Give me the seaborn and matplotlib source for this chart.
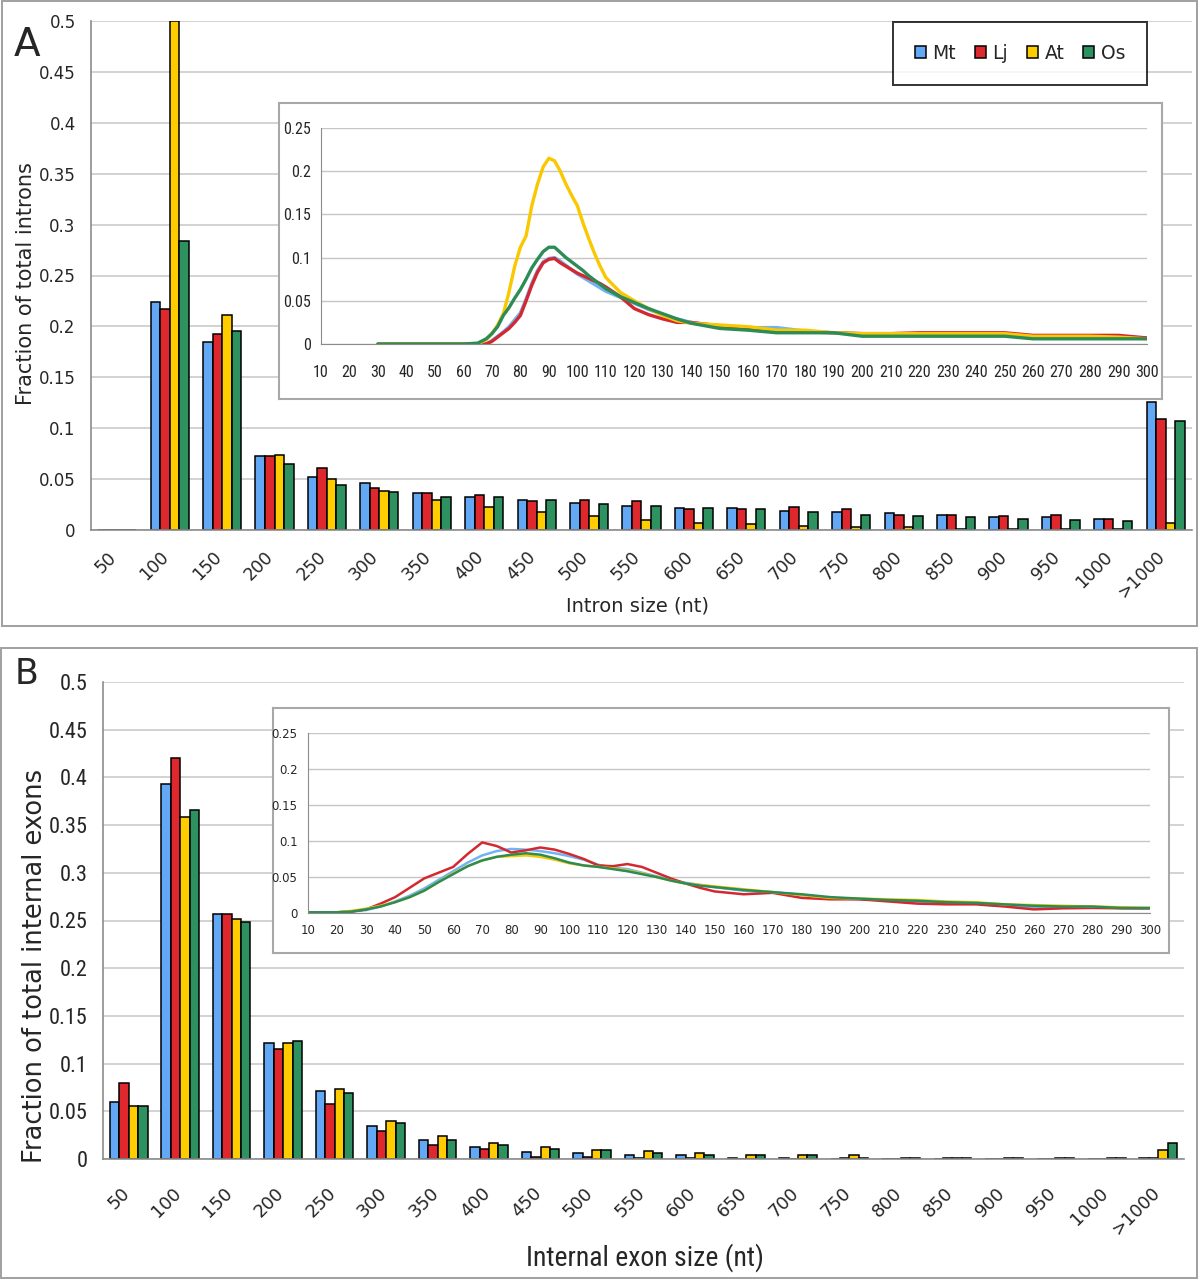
import numpy as np
import pandas as pd
import matplotlib
matplotlib.use("Agg")
import matplotlib.pyplot as plt
from matplotlib import font_manager
from matplotlib.patches import Rectangle, Patch
from matplotlib.transforms import ScaledTranslation
import seaborn as sns

sns.set_style("white")
plt.rcParams['font.family'] = ['DejaVu Sans']

# narrow face for the Excel-style labels; fall back to Liberation Sans (smaller)
_names = {f.name for f in font_manager.fontManager.ttflist}
NARROW = None
for cand in ['Liberation Sans Narrow', 'Arial Narrow', 'Roboto Condensed', 'Open Sans Condensed']:
    if cand in _names:
        NARROW = cand
        break
if NARROW is None:
    NARROW = 'Liberation Sans' if 'Liberation Sans' in _names else 'DejaVu Sans'
    NSCALE = 0.86
else:
    NSCALE = 1.0

# ---- data -------------------------------------------------------------
species = ['Mt', 'Lj', 'At', 'Os']
size_labels = ['50', '100', '150', '200', '250', '300', '350', '400', '450', '500',
               '550', '600', '650', '700', '750', '800', '850', '900', '950', '1000', '>1000']

# A: fraction of total introns per size bin
intron_mt = [0, 0.224, 0.185, 0.073, 0.052, 0.046, 0.036, 0.032, 0.029, 0.027,
             0.024, 0.022, 0.022, 0.019, 0.018, 0.017, 0.015, 0.0125, 0.0125, 0.011, 0.126]
intron_lj = [0, 0.217, 0.193, 0.073, 0.061, 0.041, 0.036, 0.034, 0.028, 0.029,
             0.028, 0.021, 0.021, 0.023, 0.021, 0.015, 0.015, 0.014, 0.015, 0.011, 0.109]
intron_at = [0, 0.500, 0.211, 0.074, 0.050, 0.038, 0.029, 0.023, 0.018, 0.014,
             0.010, 0.007, 0.006, 0.004, 0.003, 0.003, 0.0013, 0.0013, 0.0013, 0.0013, 0.007]
intron_os = [0, 0.284, 0.195, 0.065, 0.044, 0.037, 0.032, 0.032, 0.029, 0.026,
             0.024, 0.022, 0.021, 0.018, 0.015, 0.014, 0.0125, 0.011, 0.0098, 0.0085, 0.107]

# B: fraction of total internal exons per size bin
exon_mt = [0.060, 0.393, 0.257, 0.122, 0.071, 0.035, 0.020, 0.013, 0.007, 0.006,
           0.004, 0.004, 0.0015, 0.0015, 0, 0, 0, 0, 0, 0, 0.0015]
exon_lj = [0.080, 0.420, 0.257, 0.115, 0.058, 0.029, 0.015, 0.011, 0.002, 0.002,
           0.0015, 0.0015, 0, 0, 0.0015, 0, 0.0015, 0, 0, 0, 0.0015]
exon_at = [0.056, 0.359, 0.252, 0.122, 0.073, 0.040, 0.024, 0.017, 0.013, 0.009,
           0.008, 0.006, 0.004, 0.004, 0.004, 0.0015, 0.0015, 0.0015, 0.0015, 0.0015, 0.0098]
exon_os = [0.056, 0.366, 0.248, 0.124, 0.069, 0.038, 0.020, 0.015, 0.011, 0.009,
           0.006, 0.004, 0.004, 0.004, 0.0015, 0.0015, 0.0015, 0.0015, 0.0015, 0.0015, 0.0168]

# inset A: intron size distribution 30-300 nt
ins_a_x = [30, 40, 50, 60, 65, 68, 70, 72, 74, 76, 78, 80, 82, 84, 86, 88, 90, 92, 94, 96,
           98, 100, 102, 104, 106, 108, 110, 115, 120, 125, 130, 135, 140, 150, 160, 170,
           180, 190, 200, 210, 220, 230, 240, 250, 260, 270, 280, 290, 300]
ins_a_mt = [0, 0, 0, 0, 0, 0, 0.004, 0.009, 0.014, 0.020, 0.028, 0.036, 0.052, 0.070, 0.085,
            0.095, 0.099, 0.100, 0.096, 0.091, 0.086, 0.081, 0.077, 0.073, 0.069, 0.065, 0.061,
            0.054, 0.047, 0.040, 0.034, 0.029, 0.025, 0.020, 0.019, 0.019, 0.015, 0.013, 0.012,
            0.012, 0.012, 0.011, 0.011, 0.011, 0.009, 0.009, 0.009, 0.008, 0.007]
ins_a_lj = [0, 0, 0, 0, 0, 0, 0.003, 0.008, 0.013, 0.018, 0.025, 0.033, 0.050, 0.068, 0.083,
            0.094, 0.098, 0.099, 0.094, 0.090, 0.086, 0.082, 0.079, 0.076, 0.073, 0.070, 0.066,
            0.055, 0.041, 0.034, 0.029, 0.025, 0.025, 0.021, 0.018, 0.015, 0.014, 0.013, 0.012,
            0.012, 0.013, 0.013, 0.013, 0.013, 0.010, 0.010, 0.010, 0.010, 0.007]
ins_a_at = [0, 0, 0, 0, 0, 0.005, 0.012, 0.022, 0.035, 0.060, 0.090, 0.112, 0.125, 0.160, 0.185,
            0.205, 0.215, 0.212, 0.200, 0.185, 0.172, 0.160, 0.140, 0.122, 0.105, 0.090, 0.077,
            0.060, 0.050, 0.041, 0.033, 0.027, 0.024, 0.022, 0.020, 0.016, 0.016, 0.013, 0.012,
            0.012, 0.012, 0.012, 0.012, 0.012, 0.009, 0.009, 0.009, 0.008, 0.006]
ins_a_os = [0, 0, 0, 0, 0.001, 0.006, 0.012, 0.020, 0.033, 0.042, 0.053, 0.063, 0.075, 0.088, 0.098,
            0.107, 0.112, 0.112, 0.106, 0.100, 0.095, 0.090, 0.085, 0.079, 0.074, 0.069, 0.064,
            0.055, 0.048, 0.041, 0.035, 0.029, 0.024, 0.018, 0.016, 0.013, 0.013, 0.013, 0.009,
            0.009, 0.009, 0.009, 0.009, 0.009, 0.006, 0.006, 0.006, 0.006, 0.006]

# inset B: internal exon size distribution 10-300 nt
ins_b_x = [10, 20, 25, 30, 35, 40, 45, 50, 55, 60, 65, 70, 75, 80, 85, 90, 95, 100, 105, 110,
           115, 120, 125, 130, 135, 140, 145, 150, 160, 170, 180, 190, 200, 210, 220, 230, 240,
           250, 260, 270, 280, 290, 300]
ins_b_mt = [0.001, 0.001, 0.002, 0.004, 0.009, 0.016, 0.024, 0.034, 0.046, 0.058, 0.070, 0.080,
            0.086, 0.089, 0.088, 0.086, 0.083, 0.079, 0.074, 0.067, 0.063, 0.061, 0.056, 0.051,
            0.046, 0.042, 0.039, 0.036, 0.031, 0.029, 0.025, 0.021, 0.019, 0.018, 0.016, 0.014,
            0.013, 0.011, 0.008, 0.008, 0.008, 0.007, 0.006]
ins_b_lj = [0.001, 0.001, 0.002, 0.005, 0.013, 0.022, 0.035, 0.048, 0.056, 0.064, 0.082, 0.098,
            0.093, 0.084, 0.087, 0.091, 0.088, 0.082, 0.075, 0.066, 0.065, 0.068, 0.064, 0.056,
            0.048, 0.041, 0.035, 0.030, 0.026, 0.028, 0.021, 0.019, 0.019, 0.016, 0.013, 0.012,
            0.012, 0.009, 0.005, 0.0065, 0.007, 0.0065, 0.0065]
ins_b_at = [0.001, 0.001, 0.003, 0.006, 0.010, 0.015, 0.022, 0.031, 0.043, 0.055, 0.065, 0.073,
            0.078, 0.079, 0.080, 0.078, 0.074, 0.069, 0.066, 0.064, 0.062, 0.059, 0.055, 0.050,
            0.045, 0.041, 0.039, 0.037, 0.033, 0.029, 0.025, 0.021, 0.020, 0.019, 0.018, 0.016,
            0.015, 0.012, 0.011, 0.010, 0.009, 0.008, 0.007]
ins_b_os = [0.001, 0.001, 0.002, 0.005, 0.009, 0.015, 0.022, 0.031, 0.043, 0.054, 0.065, 0.073,
            0.078, 0.081, 0.083, 0.081, 0.076, 0.070, 0.066, 0.064, 0.061, 0.058, 0.054, 0.050,
            0.045, 0.041, 0.038, 0.036, 0.032, 0.029, 0.026, 0.022, 0.020, 0.018, 0.017, 0.015,
            0.014, 0.012, 0.010, 0.009, 0.009, 0.007, 0.007]

bar_colors = {'Mt': '#63A8F5', 'Lj': '#DE282E', 'At': '#FFCC00', 'Os': '#2E9160'}
line_colors = {'Mt': '#72B4F2', 'Lj': '#D42830', 'At': '#F9C800', 'Os': '#2C8C55'}

intron_df = pd.DataFrame({
    'size': size_labels * 4,
    'species': np.repeat(species, len(size_labels)),
    'frac': intron_mt + intron_lj + intron_at + intron_os,
})
exon_df = pd.DataFrame({
    'size': size_labels * 4,
    'species': np.repeat(species, len(size_labels)),
    'frac': exon_mt + exon_lj + exon_at + exon_os,
})
ins_a_df = pd.DataFrame({
    'nt': ins_a_x * 4,
    'species': np.repeat(species, len(ins_a_x)),
    'frac': ins_a_mt + ins_a_lj + ins_a_at + ins_a_os,
})
ins_b_df = pd.DataFrame({
    'nt': ins_b_x * 4,
    'species': np.repeat(species, len(ins_b_x)),
    'frac': ins_b_mt + ins_b_lj + ins_b_at + ins_b_os,
})

W, H = 1200, 1281
fig = plt.figure(figsize=(W / 100, H / 100), dpi=100)


def box(x0, y0, x1, y1):
    # pixel box (top-left origin) -> figure rect
    return [x0 / W, 1 - y1 / H, (x1 - x0) / W, (y1 - y0) / H]


GRID = '#C6C6C6'
AXC = '#8C8C8C'

# panel frames
for x0, y0, x1, y1 in [(2, 1, 1197, 626), (1, 648, 1197, 1278)]:
    r = box(x0, y0, x1, y1)
    fig.patches.append(Rectangle((r[0], r[1]), r[2], r[3], transform=fig.transFigure,
                                 fill=False, edgecolor='#A0A0A0', lw=1.4, zorder=-1))


def style_main(ax, narrow_y):
    ax.set_xlim(-0.5, len(size_labels) - 0.5)
    ax.set_ylim(0, 0.5)
    ax.set_yticks(np.arange(0, 0.501, 0.05))
    ax.set_yticklabels([f'{v:g}' for v in np.round(np.arange(0, 0.501, 0.05), 2)])
    ax.yaxis.grid(True, color=GRID, lw=1.1)
    ax.set_axisbelow(True)
    for s in ['top', 'right']:
        ax.spines[s].set_visible(False)
    for s in ['left', 'bottom']:
        ax.spines[s].set_color(AXC)
        ax.spines[s].set_linewidth(1.2)
    ax.set_xticks(np.arange(-0.5, len(size_labels), 1), minor=True)
    ax.tick_params(axis='x', which='minor', length=6, color=AXC, width=1.1)
    ax.tick_params(axis='y', length=4, color=AXC, width=1.1, pad=7)
    ax.set_xlabel('')
    ax.set_ylabel('')
    for t in ax.get_yticklabels():
        if narrow_y:
            t.set_family(NARROW)
            t.set_fontsize(16 * NSCALE)
        else:
            t.set_fontsize(12)


def bars(ax, df):
    sns.barplot(data=df, x='size', y='frac', hue='species', order=size_labels,
                hue_order=species, palette=bar_colors, width=0.73, errorbar=None,
                saturation=1, edgecolor='black', linewidth=1.1, legend=False, ax=ax)


def shift_labels(ax, dx, dy):
    off = ScaledTranslation(dx / 100, dy / 100, fig.dpi_scale_trans)
    for t in ax.get_xticklabels():
        t.set_transform(t.get_transform() + off)


def style_inset(ax, narrow, fs, lab_pad):
    ax.set_xlim(10, 300)
    ax.set_ylim(0, 0.25)
    ax.set_xticks(np.arange(10, 301, 10))
    ax.set_yticks(np.arange(0, 0.251, 0.05))
    ax.set_yticklabels([f'{v:g}' for v in np.round(np.arange(0, 0.251, 0.05), 2)])
    ax.yaxis.grid(True, color=GRID, lw=1.0)
    ax.set_axisbelow(True)
    for s in ['top', 'right']:
        ax.spines[s].set_visible(False)
    for s in ['left', 'bottom']:
        ax.spines[s].set_color(AXC)
    ax.tick_params(axis='both', length=4, color=AXC, width=1.0)
    ax.tick_params(axis='x', pad=lab_pad)
    ax.set_xlabel('')
    ax.set_ylabel('')
    ax.set_facecolor('none')
    for t in ax.get_xticklabels() + ax.get_yticklabels():
        if narrow:
            t.set_family(NARROW)
            t.set_fontsize(fs * NSCALE)
        else:
            t.set_fontsize(fs)


def frame(rect):
    f = fig.add_axes(rect)
    f.set_xticks([])
    f.set_yticks([])
    f.set_facecolor('white')
    for s in f.spines.values():
        s.set_color('#A8A8A8')
        s.set_linewidth(1.5)
    return f


# ---- panel A ----------------------------------------------------------
ax1 = fig.add_axes(box(91, 21, 1192, 530))
bars(ax1, intron_df)
style_main(ax1, narrow_y=False)
ax1.set_xticks(range(len(size_labels)))
ax1.set_xticklabels(size_labels, rotation=45, ha='right', va='top',
                    rotation_mode='anchor', fontsize=12.5)
ax1.tick_params(axis='x', which='major', length=0, pad=13)
shift_labels(ax1, -10, 0)

handles = [Patch(facecolor=bar_colors[s], edgecolor='black', lw=1.1) for s in species]
ax1.legend(handles, species, loc='center', ncol=4, mode='expand',
           bbox_to_anchor=box(893, 22, 1147, 85), bbox_transform=fig.transFigure,
           frameon=True, fancybox=False, edgecolor='black', fontsize=13.5,
           handlelength=0.6, handleheight=0.6, handletextpad=0.35,
           borderpad=1.15, borderaxespad=0).get_frame().set_linewidth(1.4)

frame(box(279, 103, 1162, 399))
axA = fig.add_axes(box(321, 128, 1147, 344))
sns.lineplot(data=ins_a_df, x='nt', y='frac', hue='species', hue_order=species,
             palette=line_colors, linewidth=2.4, errorbar=None, legend=False, ax=axA)
style_inset(axA, narrow=True, fs=11.5, lab_pad=11)

fig.text(14 / W, 1 - 26 / H, 'A', fontsize=28, ha='left', va='top')
fig.text(26 / W, 1 - 284 / H, 'Fraction of total introns', fontsize=15,
         rotation=90, ha='center', va='center')
fig.text(638 / W, 1 - 606 / H, 'Intron size (nt)', fontsize=14,
         ha='center', va='center')

# ---- panel B ----------------------------------------------------------
ax2 = fig.add_axes(box(103, 682, 1184, 1159))
bars(ax2, exon_df)
style_main(ax2, narrow_y=True)
ax2.set_xticks(range(len(size_labels)))
ax2.set_xticklabels(size_labels, rotation=45, ha='right', va='top',
                    rotation_mode='anchor', fontsize=13)
ax2.tick_params(axis='x', which='major', length=0, pad=18)
shift_labels(ax2, -8, 0)

frame(box(273, 708, 1169, 953))
axB = fig.add_axes(box(308, 733, 1150, 913))
sns.lineplot(data=ins_b_df, x='nt', y='frac', hue='species', hue_order=species,
             palette=line_colors, linewidth=1.8, errorbar=None, legend=False, ax=axB)
style_inset(axB, narrow=False, fs=8.5, lab_pad=4)

fig.text(15 / W, 1 - 657 / H, 'B', fontsize=25, ha='left', va='top')
fig.text(35 / W, 1 - 966 / H, 'Fraction of total internal exons', fontsize=18.5,
         rotation=90, ha='center', va='center')
fig.text(645 / W, 1 - 1258 / H, 'Internal exon size (nt)', fontsize=20 * NSCALE,
         family=NARROW, ha='center', va='center')

fig.savefig('out.png', dpi=100)
